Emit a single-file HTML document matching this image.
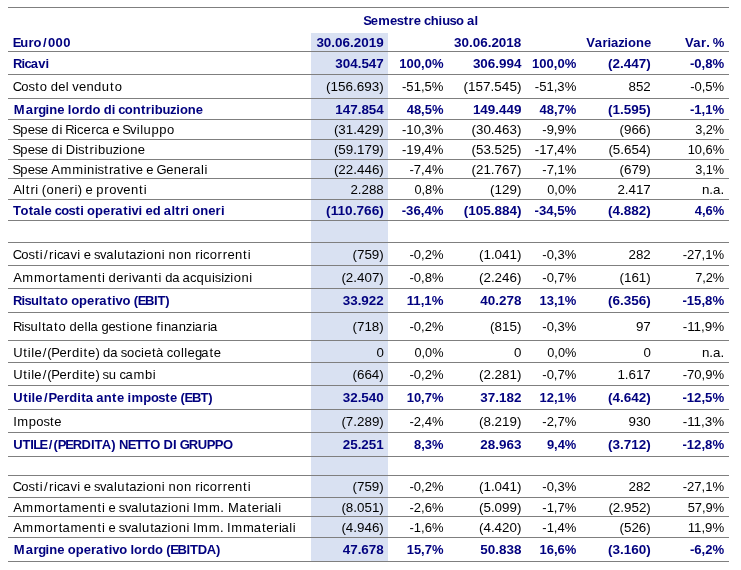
<!DOCTYPE html>
<html><head><meta charset="utf-8"><title>Tabella</title>
<style>
html,body{margin:0;padding:0;background:#fff;}
body{width:741px;height:570px;overflow:hidden;}
svg{display:block;will-change:transform;opacity:0.999;}
text{font-family:"Liberation Sans",sans-serif;font-size:13.0px;fill:#000;}
.b{font-weight:bold;fill:#00007f;}
</style></head><body>
<svg width="741" height="570" viewBox="0 0 741 570">
<rect x="0" y="0" width="741" height="570" fill="#ffffff"/>
<rect x="311" y="33" width="77" height="528.5" fill="#d9e1f2"/>
<line x1="8" y1="7.5" x2="729" y2="7.5" stroke="#7f7f7f" stroke-width="1.1"/>
<line x1="8" y1="51.5" x2="729" y2="51.5" stroke="#7f7f7f" stroke-width="1.1"/>
<line x1="8" y1="74.5" x2="729" y2="74.5" stroke="#7f7f7f" stroke-width="1.1"/>
<line x1="8" y1="98.5" x2="729" y2="98.5" stroke="#7f7f7f" stroke-width="1.1"/>
<line x1="8" y1="119.5" x2="729" y2="119.5" stroke="#7f7f7f" stroke-width="1.1"/>
<line x1="8" y1="139.5" x2="729" y2="139.5" stroke="#7f7f7f" stroke-width="1.1"/>
<line x1="8" y1="159.5" x2="729" y2="159.5" stroke="#7f7f7f" stroke-width="1.1"/>
<line x1="8" y1="178.5" x2="729" y2="178.5" stroke="#7f7f7f" stroke-width="1.1"/>
<line x1="8" y1="199.5" x2="729" y2="199.5" stroke="#7f7f7f" stroke-width="1.1"/>
<line x1="8" y1="220.5" x2="729" y2="220.5" stroke="#7f7f7f" stroke-width="1.1"/>
<line x1="8" y1="242.5" x2="729" y2="242.5" stroke="#7f7f7f" stroke-width="1.1"/>
<line x1="8" y1="265.5" x2="729" y2="265.5" stroke="#7f7f7f" stroke-width="1.1"/>
<line x1="8" y1="288.5" x2="729" y2="288.5" stroke="#7f7f7f" stroke-width="1.1"/>
<line x1="8" y1="312.5" x2="729" y2="312.5" stroke="#7f7f7f" stroke-width="1.1"/>
<line x1="8" y1="340.5" x2="729" y2="340.5" stroke="#7f7f7f" stroke-width="1.1"/>
<line x1="8" y1="362.5" x2="729" y2="362.5" stroke="#7f7f7f" stroke-width="1.1"/>
<line x1="8" y1="385.5" x2="729" y2="385.5" stroke="#7f7f7f" stroke-width="1.1"/>
<line x1="8" y1="409.5" x2="729" y2="409.5" stroke="#7f7f7f" stroke-width="1.1"/>
<line x1="8" y1="432.5" x2="729" y2="432.5" stroke="#7f7f7f" stroke-width="1.1"/>
<line x1="8" y1="456.5" x2="729" y2="456.5" stroke="#7f7f7f" stroke-width="1.1"/>
<line x1="8" y1="475.5" x2="729" y2="475.5" stroke="#7f7f7f" stroke-width="1.1"/>
<line x1="8" y1="497.5" x2="729" y2="497.5" stroke="#7f7f7f" stroke-width="1.1"/>
<line x1="8" y1="516.5" x2="729" y2="516.5" stroke="#7f7f7f" stroke-width="1.1"/>
<line x1="8" y1="537.5" x2="729" y2="537.5" stroke="#7f7f7f" stroke-width="1.1"/>
<line x1="8" y1="561.5" x2="729" y2="561.5" stroke="#7f7f7f" stroke-width="1.1"/>
<text x="363.14 370.67 378.29 390.11 396.83 403.71 408.52 413.79 421.01 424.02 430.67 438.58 442.16 449.49 456.01 463.81 466.96 474.60" y="25.0" class="b">Semestre chiuso al</text>
<text x="12.82 20.36 28.38 33.57 42.88 47.99 55.47 63.13" y="47.2" class="b">Euro/000</text>
<text x="383.7" y="47.2" text-anchor="end" class="b" textLength="67.3" lengthAdjust="spacingAndGlyphs">30.06.2019</text>
<text x="521.3" y="47.2" text-anchor="end" class="b" textLength="67.3" lengthAdjust="spacingAndGlyphs">30.06.2018</text>
<text x="586.36 594.78 602.43 607.62 610.91 618.18 624.37 627.99 635.94 643.95" y="47.2" class="b">Variazione</text>
<text x="684.96 693.36 701.00 706.35 709.97 712.81" y="47.2" class="b">Var. %</text>
<text x="12.93 21.44 24.57 30.84 38.28 45.48" y="68.0" class="b">Ricavi</text>
<text x="383.8" y="68.0" text-anchor="end" class="b" textLength="48.5" lengthAdjust="spacingAndGlyphs">304.547</text>
<text x="443.5" y="68.0" text-anchor="end" class="b" textLength="44.2" lengthAdjust="spacingAndGlyphs">100,0%</text>
<text x="521.4" y="68.0" text-anchor="end" class="b" textLength="48.5" lengthAdjust="spacingAndGlyphs">306.994</text>
<text x="576.3" y="68.0" text-anchor="end" class="b" textLength="44.2" lengthAdjust="spacingAndGlyphs">100,0%</text>
<text x="650.8" y="68.0" text-anchor="end" class="b" textLength="42.8" lengthAdjust="spacingAndGlyphs">(2.447)</text>
<text x="724.2" y="68.0" text-anchor="end" class="b" textLength="34.3" lengthAdjust="spacingAndGlyphs">-0,8%</text>
<text x="12.73 21.30 28.47 35.13 39.71 47.06 50.67 58.31 65.80 68.79 72.32 78.95 86.49 94.06 101.85 109.96 114.68" y="91.0">Costo del venduto</text>
<text x="383.8" y="91.0" text-anchor="end" textLength="57.8" lengthAdjust="spacingAndGlyphs">(156.693)</text>
<text x="443.5" y="91.0" text-anchor="end" textLength="41.5" lengthAdjust="spacingAndGlyphs">-51,5%</text>
<text x="521.4" y="91.0" text-anchor="end" textLength="57.8" lengthAdjust="spacingAndGlyphs">(157.545)</text>
<text x="576.3" y="91.0" text-anchor="end" textLength="41.5" lengthAdjust="spacingAndGlyphs">-51,3%</text>
<text x="650.8" y="91.0" text-anchor="end" textLength="22.3" lengthAdjust="spacingAndGlyphs">852</text>
<text x="724.2" y="91.0" text-anchor="end" textLength="34.0" lengthAdjust="spacingAndGlyphs">-0,5%</text>
<text x="13.78 25.75 33.40 38.37 45.58 49.22 57.17 64.38 67.87 71.46 79.44 84.56 92.53 100.32 103.72 111.70 115.18 118.18 124.81 132.76 140.99 145.80 150.99 154.65 162.46 170.08 176.28 179.89 187.84 195.85" y="114.0" class="b">Margine lordo di contribuzione</text>
<text x="383.8" y="114.0" text-anchor="end" class="b" textLength="48.5" lengthAdjust="spacingAndGlyphs">147.854</text>
<text x="443.5" y="114.0" text-anchor="end" class="b" textLength="36.8" lengthAdjust="spacingAndGlyphs">48,5%</text>
<text x="521.4" y="114.0" text-anchor="end" class="b" textLength="48.5" lengthAdjust="spacingAndGlyphs">149.449</text>
<text x="576.3" y="114.0" text-anchor="end" class="b" textLength="36.8" lengthAdjust="spacingAndGlyphs">48,7%</text>
<text x="650.8" y="114.0" text-anchor="end" class="b" textLength="42.8" lengthAdjust="spacingAndGlyphs">(1.595)</text>
<text x="724.2" y="114.0" text-anchor="end" class="b" textLength="34.3" lengthAdjust="spacingAndGlyphs">-1,1%</text>
<text x="12.60 20.31 27.76 34.71 40.85 47.97 51.58 59.41 62.41 65.37 74.11 77.12 83.54 91.21 95.80 101.65 109.07 112.61 119.73 122.19 130.04 136.85 140.23 143.58 151.45 159.19 166.98" y="134.0">Spese di Ricerca e Sviluppo</text>
<text x="383.8" y="134.0" text-anchor="end" textLength="49.9" lengthAdjust="spacingAndGlyphs">(31.429)</text>
<text x="443.5" y="134.0" text-anchor="end" textLength="41.5" lengthAdjust="spacingAndGlyphs">-10,3%</text>
<text x="521.4" y="134.0" text-anchor="end" textLength="49.9" lengthAdjust="spacingAndGlyphs">(30.463)</text>
<text x="576.3" y="134.0" text-anchor="end" textLength="34.0" lengthAdjust="spacingAndGlyphs">-9,9%</text>
<text x="650.8" y="134.0" text-anchor="end" textLength="31.3" lengthAdjust="spacingAndGlyphs">(966)</text>
<text x="724.2" y="134.0" text-anchor="end" textLength="29.0" lengthAdjust="spacingAndGlyphs">3,2%</text>
<text x="12.60 20.31 27.77 34.72 40.85 47.97 51.59 59.42 62.42 65.76 75.19 78.02 84.69 89.43 94.39 97.89 105.48 112.73 119.06 122.47 130.27 137.81" y="154.0">Spese di Distribuzione</text>
<text x="383.8" y="154.0" text-anchor="end" textLength="49.9" lengthAdjust="spacingAndGlyphs">(59.179)</text>
<text x="443.5" y="154.0" text-anchor="end" textLength="41.5" lengthAdjust="spacingAndGlyphs">-19,4%</text>
<text x="521.4" y="154.0" text-anchor="end" textLength="49.9" lengthAdjust="spacingAndGlyphs">(53.525)</text>
<text x="576.3" y="154.0" text-anchor="end" textLength="41.5" lengthAdjust="spacingAndGlyphs">-17,4%</text>
<text x="650.8" y="154.0" text-anchor="end" textLength="42.4" lengthAdjust="spacingAndGlyphs">(5.654)</text>
<text x="724.2" y="154.0" text-anchor="end" textLength="36.5" lengthAdjust="spacingAndGlyphs">10,6%</text>
<text x="12.59 20.30 27.74 34.68 40.81 47.93 51.32 60.42 72.16 83.63 87.07 94.74 97.56 104.23 108.96 113.16 121.32 125.89 129.10 135.73 142.84 146.37 153.48 156.59 166.29 173.84 181.33 188.99 193.20 201.00 204.53" y="174.0">Spese Amministrative e Generali</text>
<text x="383.8" y="174.0" text-anchor="end" textLength="49.9" lengthAdjust="spacingAndGlyphs">(22.446)</text>
<text x="443.5" y="174.0" text-anchor="end" textLength="34.0" lengthAdjust="spacingAndGlyphs">-7,4%</text>
<text x="521.4" y="174.0" text-anchor="end" textLength="49.9" lengthAdjust="spacingAndGlyphs">(21.767)</text>
<text x="576.3" y="174.0" text-anchor="end" textLength="34.0" lengthAdjust="spacingAndGlyphs">-7,1%</text>
<text x="650.8" y="174.0" text-anchor="end" textLength="31.3" lengthAdjust="spacingAndGlyphs">(679)</text>
<text x="724.2" y="174.0" text-anchor="end" textLength="29.0" lengthAdjust="spacingAndGlyphs">3,1%</text>
<text x="13.18 21.95 25.68 30.41 35.37 38.37 41.73 46.56 54.34 61.83 69.49 74.45 77.85 81.91 85.44 92.55 96.36 104.15 109.13 116.70 123.33 130.88 138.91 143.63" y="194.0">Altri (oneri) e proventi</text>
<text x="383.8" y="194.0" text-anchor="end" textLength="33.4" lengthAdjust="spacingAndGlyphs">2.288</text>
<text x="443.5" y="194.0" text-anchor="end" textLength="29.0" lengthAdjust="spacingAndGlyphs">0,8%</text>
<text x="521.4" y="194.0" text-anchor="end" textLength="31.3" lengthAdjust="spacingAndGlyphs">(129)</text>
<text x="576.3" y="194.0" text-anchor="end" textLength="29.0" lengthAdjust="spacingAndGlyphs">0,0%</text>
<text x="650.8" y="194.0" text-anchor="end" textLength="33.4" lengthAdjust="spacingAndGlyphs">2.417</text>
<text x="724.2" y="194.0" text-anchor="end" textLength="22.3" lengthAdjust="spacingAndGlyphs">n.a.</text>
<text x="13.03 20.48 28.75 33.18 40.79 44.45 51.66 54.66 61.28 68.56 75.43 80.18 83.66 87.12 95.08 103.01 110.40 115.26 123.20 127.96 131.45 138.54 142.02 145.55 152.82 160.66 163.80 171.41 175.36 180.16 185.35 188.82 192.28 200.22 208.17 215.56 220.88" y="215.0" class="b">Totale costi operativi ed altri oneri</text>
<text x="383.8" y="215.0" text-anchor="end" class="b" textLength="57.7" lengthAdjust="spacingAndGlyphs">(110.766)</text>
<text x="443.5" y="215.0" text-anchor="end" class="b" textLength="41.8" lengthAdjust="spacingAndGlyphs">-36,4%</text>
<text x="521.4" y="215.0" text-anchor="end" class="b" textLength="57.7" lengthAdjust="spacingAndGlyphs">(105.884)</text>
<text x="576.3" y="215.0" text-anchor="end" class="b" textLength="41.8" lengthAdjust="spacingAndGlyphs">-34,5%</text>
<text x="650.8" y="215.0" text-anchor="end" class="b" textLength="42.8" lengthAdjust="spacingAndGlyphs">(4.882)</text>
<text x="724.2" y="215.0" text-anchor="end" class="b" textLength="29.4" lengthAdjust="spacingAndGlyphs">4,6%</text>
<text x="12.73 21.31 28.48 35.15 39.72 43.88 48.94 53.90 56.90 62.74 70.38 77.19 80.18 83.71 90.83 93.98 100.12 106.17 113.98 117.32 125.44 129.25 136.53 142.86 146.26 154.05 161.72 164.72 168.48 176.18 183.97 191.26 195.13 200.09 203.09 209.71 217.61 222.74 227.52 235.07 243.11 247.83" y="259.0">Costi/ricavi e svalutazioni non ricorrenti</text>
<text x="383.8" y="259.0" text-anchor="end" textLength="31.3" lengthAdjust="spacingAndGlyphs">(759)</text>
<text x="443.5" y="259.0" text-anchor="end" textLength="34.0" lengthAdjust="spacingAndGlyphs">-0,2%</text>
<text x="521.4" y="259.0" text-anchor="end" textLength="42.4" lengthAdjust="spacingAndGlyphs">(1.041)</text>
<text x="576.3" y="259.0" text-anchor="end" textLength="34.0" lengthAdjust="spacingAndGlyphs">-0,3%</text>
<text x="650.8" y="259.0" text-anchor="end" textLength="22.3" lengthAdjust="spacingAndGlyphs">282</text>
<text x="724.2" y="259.0" text-anchor="end" textLength="41.5" lengthAdjust="spacingAndGlyphs">-27,1%</text>
<text x="13.18 22.22 33.96 45.45 53.34 58.67 62.47 70.54 81.83 89.38 97.41 101.97 104.97 108.58 116.22 123.87 128.83 132.04 138.09 145.94 153.97 158.53 161.53 165.14 172.20 179.61 182.56 189.98 196.49 204.26 212.02 214.84 221.14 224.00 230.32 233.72 241.51 249.33" y="282.0">Ammortamenti derivanti da acquisizioni</text>
<text x="383.8" y="282.0" text-anchor="end" textLength="42.4" lengthAdjust="spacingAndGlyphs">(2.407)</text>
<text x="443.5" y="282.0" text-anchor="end" textLength="34.0" lengthAdjust="spacingAndGlyphs">-0,8%</text>
<text x="521.4" y="282.0" text-anchor="end" textLength="42.4" lengthAdjust="spacingAndGlyphs">(2.246)</text>
<text x="576.3" y="282.0" text-anchor="end" textLength="34.0" lengthAdjust="spacingAndGlyphs">-0,7%</text>
<text x="650.8" y="282.0" text-anchor="end" textLength="31.3" lengthAdjust="spacingAndGlyphs">(161)</text>
<text x="724.2" y="282.0" text-anchor="end" textLength="29.0" lengthAdjust="spacingAndGlyphs">7,2%</text>
<text x="12.94 21.48 24.45 30.91 38.87 42.82 47.24 55.19 59.93 67.71 71.16 79.12 87.04 94.43 99.29 107.23 111.98 115.47 122.55 130.33 133.71 137.63 145.04 153.96 157.40 165.19" y="305.0" class="b">Risultato operativo (EBIT)</text>
<text x="383.8" y="305.0" text-anchor="end" class="b" textLength="41.1" lengthAdjust="spacingAndGlyphs">33.922</text>
<text x="443.5" y="305.0" text-anchor="end" class="b" textLength="36.8" lengthAdjust="spacingAndGlyphs">11,1%</text>
<text x="521.4" y="305.0" text-anchor="end" class="b" textLength="41.1" lengthAdjust="spacingAndGlyphs">40.278</text>
<text x="576.3" y="305.0" text-anchor="end" class="b" textLength="36.8" lengthAdjust="spacingAndGlyphs">13,1%</text>
<text x="650.8" y="305.0" text-anchor="end" class="b" textLength="42.8" lengthAdjust="spacingAndGlyphs">(6.356)</text>
<text x="724.2" y="305.0" text-anchor="end" class="b" textLength="41.8" lengthAdjust="spacingAndGlyphs">-15,8%</text>
<text x="12.94 21.41 24.23 30.50 38.25 41.98 45.78 53.94 58.52 65.87 69.47 77.11 84.60 87.97 90.58 98.00 101.56 108.44 115.37 122.03 126.59 129.99 137.77 145.25 152.36 156.20 160.55 163.97 170.88 178.73 185.87 192.20 194.81 202.77 207.73 210.06" y="331.0">Risultato della gestione finanziaria</text>
<text x="383.8" y="331.0" text-anchor="end" textLength="31.3" lengthAdjust="spacingAndGlyphs">(718)</text>
<text x="443.5" y="331.0" text-anchor="end" textLength="34.0" lengthAdjust="spacingAndGlyphs">-0,2%</text>
<text x="521.4" y="331.0" text-anchor="end" textLength="31.3" lengthAdjust="spacingAndGlyphs">(815)</text>
<text x="576.3" y="331.0" text-anchor="end" textLength="34.0" lengthAdjust="spacingAndGlyphs">-0,3%</text>
<text x="650.8" y="331.0" text-anchor="end" textLength="14.9" lengthAdjust="spacingAndGlyphs">97</text>
<text x="724.2" y="331.0" text-anchor="end" textLength="41.5" lengthAdjust="spacingAndGlyphs">-11,9%</text>
<text x="13.21 23.24 27.80 31.18 34.38 42.66 47.21 51.35 59.43 67.09 71.96 79.78 83.52 87.91 95.43 99.48 103.10 110.16 117.58 120.74 127.07 134.42 141.02 144.22 152.07 155.88 163.30 166.63 173.25 180.99 184.36 187.56 194.91 201.22 209.39 213.81" y="357.0">Utile/(Perdite) da società collegate</text>
<text x="383.8" y="357.0" text-anchor="end" textLength="7.4" lengthAdjust="spacingAndGlyphs">0</text>
<text x="443.5" y="357.0" text-anchor="end" textLength="29.0" lengthAdjust="spacingAndGlyphs">0,0%</text>
<text x="521.4" y="357.0" text-anchor="end" textLength="7.4" lengthAdjust="spacingAndGlyphs">0</text>
<text x="576.3" y="357.0" text-anchor="end" textLength="29.0" lengthAdjust="spacingAndGlyphs">0,0%</text>
<text x="650.8" y="357.0" text-anchor="end" textLength="7.4" lengthAdjust="spacingAndGlyphs">0</text>
<text x="724.2" y="357.0" text-anchor="end" textLength="22.3" lengthAdjust="spacingAndGlyphs">n.a.</text>
<text x="13.21 23.23 27.79 31.17 34.36 42.64 47.19 51.33 59.41 67.07 71.93 79.75 83.49 87.87 95.39 99.44 102.59 108.86 116.24 119.57 125.41 133.48 145.07 152.83" y="379.0">Utile/(Perdite) su cambi</text>
<text x="383.8" y="379.0" text-anchor="end" textLength="31.3" lengthAdjust="spacingAndGlyphs">(664)</text>
<text x="443.5" y="379.0" text-anchor="end" textLength="34.0" lengthAdjust="spacingAndGlyphs">-0,2%</text>
<text x="521.4" y="379.0" text-anchor="end" textLength="42.4" lengthAdjust="spacingAndGlyphs">(2.281)</text>
<text x="576.3" y="379.0" text-anchor="end" textLength="34.0" lengthAdjust="spacingAndGlyphs">-0,7%</text>
<text x="650.8" y="379.0" text-anchor="end" textLength="33.4" lengthAdjust="spacingAndGlyphs">1.617</text>
<text x="724.2" y="379.0" text-anchor="end" textLength="41.5" lengthAdjust="spacingAndGlyphs">-70,9%</text>
<text x="13.27 23.16 27.91 31.54 35.21 43.92 48.47 56.78 64.17 69.28 77.26 81.22 85.65 93.11 96.24 103.86 112.09 116.91 124.11 127.58 131.44 143.21 151.06 158.35 165.21 170.03 177.23 180.62 184.54 191.95 200.39 208.19" y="402.0" class="b">Utile/Perdita ante imposte (EBT)</text>
<text x="383.8" y="402.0" text-anchor="end" class="b" textLength="41.1" lengthAdjust="spacingAndGlyphs">32.540</text>
<text x="443.5" y="402.0" text-anchor="end" class="b" textLength="36.8" lengthAdjust="spacingAndGlyphs">10,7%</text>
<text x="521.4" y="402.0" text-anchor="end" class="b" textLength="41.1" lengthAdjust="spacingAndGlyphs">37.182</text>
<text x="576.3" y="402.0" text-anchor="end" class="b" textLength="36.8" lengthAdjust="spacingAndGlyphs">12,1%</text>
<text x="650.8" y="402.0" text-anchor="end" class="b" textLength="42.8" lengthAdjust="spacingAndGlyphs">(4.642)</text>
<text x="724.2" y="402.0" text-anchor="end" class="b" textLength="41.8" lengthAdjust="spacingAndGlyphs">-12,5%</text>
<text x="13.20 17.30 28.75 36.31 43.40 50.00 54.33" y="426.0">Imposte</text>
<text x="383.8" y="426.0" text-anchor="end" textLength="42.4" lengthAdjust="spacingAndGlyphs">(7.289)</text>
<text x="443.5" y="426.0" text-anchor="end" textLength="34.0" lengthAdjust="spacingAndGlyphs">-2,4%</text>
<text x="521.4" y="426.0" text-anchor="end" textLength="42.4" lengthAdjust="spacingAndGlyphs">(8.219)</text>
<text x="576.3" y="426.0" text-anchor="end" textLength="34.0" lengthAdjust="spacingAndGlyphs">-2,7%</text>
<text x="650.8" y="426.0" text-anchor="end" textLength="22.3" lengthAdjust="spacingAndGlyphs">930</text>
<text x="724.2" y="426.0" text-anchor="end" textLength="41.5" lengthAdjust="spacingAndGlyphs">-11,3%</text>
<text x="13.27 22.46 30.23 33.16 39.45 48.74 53.61 57.86 65.34 72.77 81.57 90.97 94.40 101.79 111.26 115.36 118.97 127.75 135.34 142.62 150.16 160.03 163.52 172.92 176.54 179.65 188.87 197.76 206.83 214.66 222.88" y="449.0" class="b">UTILE/(PERDITA) NETTO DI GRUPPO</text>
<text x="383.8" y="449.0" text-anchor="end" class="b" textLength="41.1" lengthAdjust="spacingAndGlyphs">25.251</text>
<text x="443.5" y="449.0" text-anchor="end" class="b" textLength="29.4" lengthAdjust="spacingAndGlyphs">8,3%</text>
<text x="521.4" y="449.0" text-anchor="end" class="b" textLength="41.1" lengthAdjust="spacingAndGlyphs">28.963</text>
<text x="576.3" y="449.0" text-anchor="end" class="b" textLength="29.4" lengthAdjust="spacingAndGlyphs">9,4%</text>
<text x="650.8" y="449.0" text-anchor="end" class="b" textLength="42.8" lengthAdjust="spacingAndGlyphs">(3.712)</text>
<text x="724.2" y="449.0" text-anchor="end" class="b" textLength="41.8" lengthAdjust="spacingAndGlyphs">-12,8%</text>
<text x="12.73 21.31 28.48 35.15 39.72 43.88 48.94 53.90 56.90 62.74 70.38 77.19 80.18 83.71 90.83 93.98 100.12 106.17 113.98 117.32 125.44 129.25 136.53 142.86 146.26 154.05 161.72 164.72 168.48 176.18 183.97 191.26 195.13 200.09 203.09 209.71 217.61 222.74 227.52 235.07 243.11 247.83" y="491.0">Costi/ricavi e svalutazioni non ricorrenti</text>
<text x="383.8" y="491.0" text-anchor="end" textLength="31.3" lengthAdjust="spacingAndGlyphs">(759)</text>
<text x="443.5" y="491.0" text-anchor="end" textLength="34.0" lengthAdjust="spacingAndGlyphs">-0,2%</text>
<text x="521.4" y="491.0" text-anchor="end" textLength="42.4" lengthAdjust="spacingAndGlyphs">(1.041)</text>
<text x="576.3" y="491.0" text-anchor="end" textLength="34.0" lengthAdjust="spacingAndGlyphs">-0,3%</text>
<text x="650.8" y="491.0" text-anchor="end" textLength="22.3" lengthAdjust="spacingAndGlyphs">282</text>
<text x="724.2" y="491.0" text-anchor="end" textLength="41.5" lengthAdjust="spacingAndGlyphs">-27,1%</text>
<text x="13.18 22.22 33.96 45.46 53.35 58.67 62.48 70.55 81.84 89.39 97.42 101.98 104.98 108.51 115.62 118.77 124.91 130.96 138.76 142.10 150.22 154.02 161.30 167.63 171.03 178.81 186.48 189.47 192.99 197.16 208.90 220.18 223.70 228.04 239.22 247.38 251.76 259.42 264.38 267.00 274.80 278.33" y="512.0">Ammortamenti e svalutazioni Imm. Materiali</text>
<text x="383.8" y="512.0" text-anchor="end" textLength="42.4" lengthAdjust="spacingAndGlyphs">(8.051)</text>
<text x="443.5" y="512.0" text-anchor="end" textLength="34.0" lengthAdjust="spacingAndGlyphs">-2,6%</text>
<text x="521.4" y="512.0" text-anchor="end" textLength="42.4" lengthAdjust="spacingAndGlyphs">(5.099)</text>
<text x="576.3" y="512.0" text-anchor="end" textLength="34.0" lengthAdjust="spacingAndGlyphs">-1,7%</text>
<text x="650.8" y="512.0" text-anchor="end" textLength="42.4" lengthAdjust="spacingAndGlyphs">(2.952)</text>
<text x="724.2" y="512.0" text-anchor="end" textLength="36.5" lengthAdjust="spacingAndGlyphs">57,9%</text>
<text x="13.18 22.21 33.95 45.44 53.33 58.65 62.45 70.53 81.81 89.36 97.39 101.95 104.94 108.46 115.57 118.72 124.86 130.90 138.70 142.04 150.16 153.96 161.23 167.56 170.96 178.74 186.40 189.40 192.91 197.07 208.81 220.09 223.61 227.12 231.29 243.03 253.73 261.89 266.28 273.93 278.89 281.50 289.30 292.83" y="532.0">Ammortamenti e svalutazioni Imm. Immateriali</text>
<text x="383.8" y="532.0" text-anchor="end" textLength="42.4" lengthAdjust="spacingAndGlyphs">(4.946)</text>
<text x="443.5" y="532.0" text-anchor="end" textLength="34.0" lengthAdjust="spacingAndGlyphs">-1,6%</text>
<text x="521.4" y="532.0" text-anchor="end" textLength="42.4" lengthAdjust="spacingAndGlyphs">(4.420)</text>
<text x="576.3" y="532.0" text-anchor="end" textLength="34.0" lengthAdjust="spacingAndGlyphs">-1,4%</text>
<text x="650.8" y="532.0" text-anchor="end" textLength="31.3" lengthAdjust="spacingAndGlyphs">(526)</text>
<text x="724.2" y="532.0" text-anchor="end" textLength="36.5" lengthAdjust="spacingAndGlyphs">11,9%</text>
<text x="13.77 25.74 33.38 38.35 45.55 49.18 57.13 64.34 67.79 75.76 83.69 91.08 95.94 103.88 108.64 112.13 119.21 127.00 130.48 134.07 142.04 147.15 155.12 162.90 166.29 170.21 177.62 186.55 189.99 197.64 206.68 215.99" y="554.0" class="b">Margine operativo lordo (EBITDA)</text>
<text x="383.8" y="554.0" text-anchor="end" class="b" textLength="41.1" lengthAdjust="spacingAndGlyphs">47.678</text>
<text x="443.5" y="554.0" text-anchor="end" class="b" textLength="36.8" lengthAdjust="spacingAndGlyphs">15,7%</text>
<text x="521.4" y="554.0" text-anchor="end" class="b" textLength="41.1" lengthAdjust="spacingAndGlyphs">50.838</text>
<text x="576.3" y="554.0" text-anchor="end" class="b" textLength="36.8" lengthAdjust="spacingAndGlyphs">16,6%</text>
<text x="650.8" y="554.0" text-anchor="end" class="b" textLength="42.8" lengthAdjust="spacingAndGlyphs">(3.160)</text>
<text x="724.2" y="554.0" text-anchor="end" class="b" textLength="34.3" lengthAdjust="spacingAndGlyphs">-6,2%</text>
</svg>
</body></html>
